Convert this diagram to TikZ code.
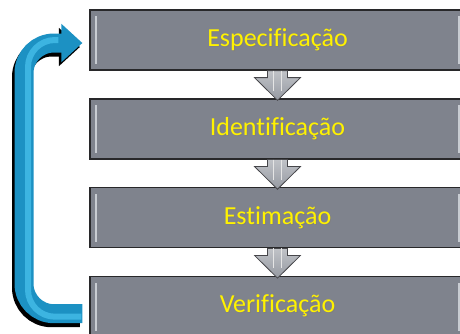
\documentclass[tikz,border=0pt]{standalone}
\usepackage{fontspec}
\setmainfont{Carlito}[Ligatures=NoCommon]
\usetikzlibrary{arrows.meta, positioning, calc}

\definecolor{boxgray}{RGB}{127,131,141}
\definecolor{boxedge}{RGB}{40,40,42}
\definecolor{boxlight}{RGB}{200,204,210}
\definecolor{loopblue}{RGB}{28,145,195}
\definecolor{looplight}{RGB}{60,180,225}
\definecolor{stepgray}{RGB}{150,154,162}
\definecolor{stepedge}{RGB}{70,70,74}

\newcommand{\shadowed}[1]{\rlap{\hspace{1pt}\raisebox{-1pt}{\color{black!50}#1}}#1}

\begin{document}
\begin{tikzpicture}[x=1pt, y=-1pt,
  stage/.style={draw=boxedge, line width=1.2pt, fill=boxgray,
    minimum width=375pt, minimum height=60pt, inner sep=0pt,
    font=\fontsize{26}{30}\selectfont, text=yellow,
    path picture={
      \fill[boxlight] ([xshift=5pt,yshift=-6pt]path picture bounding box.north west)
        rectangle ([xshift=7pt,yshift=6pt]path picture bounding box.south west);
      \fill[boxlight] ([xshift=-5pt,yshift=-6pt]path picture bounding box.north east)
        rectangle ([xshift=-7pt,yshift=6pt]path picture bounding box.south east);
    }},
  downstep/.style={draw=stepedge, line width=0.8pt, top color=stepgray!60!white, bottom color=stepgray},
  loop/.style={line width=19pt, rounded corners=30pt, -{Triangle[width=37pt,length=21pt]}},
  node distance=27.7pt
 ]
  \clip (0,0) rectangle (460,333);
  \useasboundingbox (0,0) rectangle (460,333);

  % Stages
  \node[stage] (b1) at (277.5,40) {\shadowed{Especificação}};
  \node[stage, below=of b1] (b2) {\shadowed{Identificação}};
  \node[stage, below=of b2] (b3) {\shadowed{Estimação}};
  \node[stage, below=of b3] (b4) {\shadowed{Verificação}};

  % Down arrows between stages
  \foreach \a/\b in {b1/b2, b2/b3, b3/b4} {
    \path (\a.south) coordinate (top) (\b.north) coordinate (bot);
    \path[downstep] ($(top)+(-10,0)$) -- ($(top)+(-10,7)$) -- ($(top)+(-23,7)$)
      -- ($(bot)+(0,2)$) -- ($(top)+(23,7)$) -- ($(top)+(10,7)$) -- ($(top)+(10,0)$) -- cycle;
    \draw[white!80!gray, line width=1.3pt] ($(top)+(-4,0)$) -- ($(top)+(-4,20)$);
    \draw[white!80!gray, line width=1.3pt] ($(top)+(4,0)$) -- ($(top)+(4,20)$);
  }

  % Loop back arrow
  \coordinate (loopx) at (24,0);
  \coordinate (loopstart) at ([xshift=-7pt,yshift=-7pt]b4.west);
  \coordinate (loopend) at ([xshift=-7pt,yshift=-3pt]b1.west);
  \begin{scope}[transform canvas={shift={(-2.5pt,-4pt)}}]
    \draw[loop, black]
      (loopstart) -- (loopstart -| loopx) -- (loopend -| loopx) -- (loopend);
  \end{scope}
  \draw[loop, loopblue]
    (loopstart) -- (loopstart -| loopx) -- (loopend -| loopx) -- (loopend);
  \draw[looplight, line width=6pt, rounded corners=27pt]
    ([xshift=-1pt,yshift=-3pt]loopstart) -- ([xshift=4pt,yshift=-3pt]loopstart -| loopx)
    -- ([xshift=4pt,yshift=3pt]loopend -| loopx) -- ([xshift=-24pt,yshift=3pt]loopend);
\end{tikzpicture}
\end{document}
